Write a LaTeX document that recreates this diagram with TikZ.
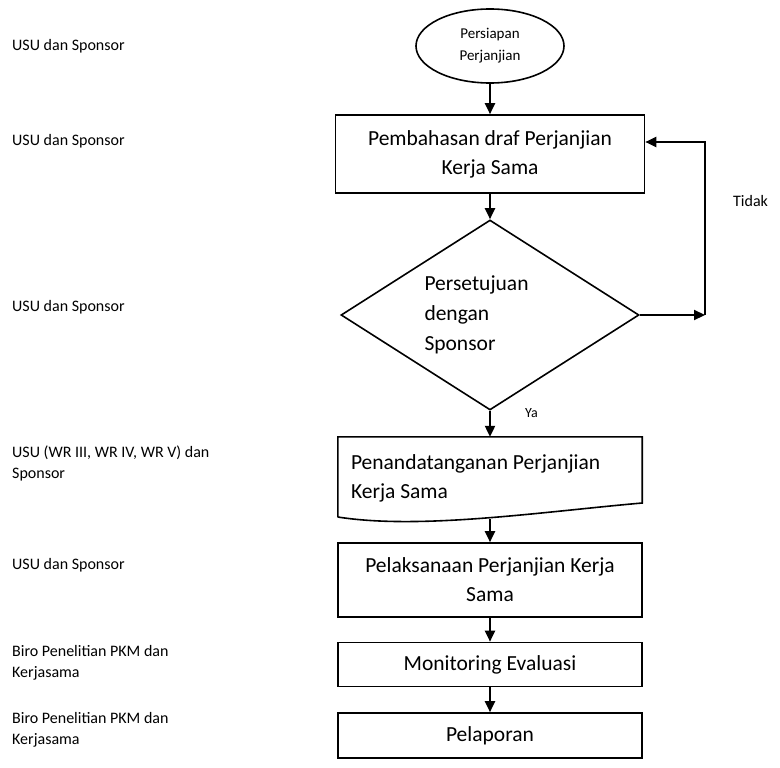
\documentclass[tikz,border=0pt]{standalone}
\usepackage{fontspec}
\setmainfont{Carlito}
\usetikzlibrary{shapes.geometric,arrows.meta}
\begin{document}
\begin{tikzpicture}[x=1pt,y=-1pt,
  box/.style={draw,line width=1.6pt,inner sep=0pt,align=center,font=\fontsize{21.5}{29}\selectfont},
  arr/.style={line width=2.2pt,-{Triangle[length=11pt,width=10pt]}},
  lbl/.style={anchor=west,align=flush left,inner sep=0pt,font=\fontsize{16}{21}\selectfont}]
\useasboundingbox (0,0) rectangle (780,768);
% left labels
\node[lbl] (l1) at (12,46) {USU dan Sponsor};
\node[lbl] (l2) at (12,141) {USU dan Sponsor};
\node[lbl] (l3) at (12,307) {USU dan Sponsor};
\node[lbl] (l4) at (12,463.5) {USU (WR III, WR IV, WR V) dan\\Sponsor};
\node[lbl] (l5) at (12,565) {USU dan Sponsor};
\node[lbl] (l6) at (12,662.5) {Biro Penelitian PKM dan\\Kerjasama};
\node[lbl] (l7) at (12,729.5) {Biro Penelitian PKM dan\\Kerjasama};
% flow
\node[ellipse,draw,line width=1.6pt,minimum width=148pt,minimum height=74pt,inner sep=0pt,align=center,font=\fontsize{15}{22}\selectfont] (start) at (490,46) {Persiapan\\Perjanjian};
\node[box,minimum width=309pt,minimum height=78pt] (b1) at (490,154) {Pembahasan draf Perjanjian\\Kerja Sama};
\node[diamond,draw,line width=1.6pt,aspect=1.57,minimum width=298pt,minimum height=190pt,inner sep=0pt,text width=131pt,align=flush left,font=\fontsize{21.5}{30}\selectfont] (dec) at (490,315) {Persetujuan\\dengan\\Sponsor};
\node[inner sep=0pt,minimum width=304pt,minimum height=82pt,text width=278pt,align=flush left,font=\fontsize{21.5}{29}\selectfont] (doc) at (490,478) {Penandatanganan Perjanjian\\Kerja Sama};
\draw[line width=1.6pt] (doc.south west |- 0,517) -- (doc.north west) -- (doc.north east) -- (doc.north east |- 0,503) .. controls (540,512) and (420,530) .. (doc.south west |- 0,517);
\node[box,minimum width=304pt,minimum height=74pt] (b4) at (490,580) {Pelaksanaan Perjanjian Kerja\\Sama};
\node[box,minimum width=304pt,minimum height=44pt] (b5) at (490,664.5) {Monitoring Evaluasi};
\node[box,minimum width=304pt,minimum height=45pt] (b6) at (490,735.5) {Pelaporan};
% connectors
\draw[arr] (start.south) -- (b1.north);
\draw[arr] (b1.south) -- (dec.north);
\draw[arr] (dec.south) -- (doc.north);
\draw[arr] (doc.south) -- (b4.north);
\draw[arr] (b4.south) -- (b5.north);
\draw[arr] (b5.south) -- (b6.north);
\coordinate (c1) at (705,315);
\coordinate (c2) at (705,142);
\draw[arr] (dec.east) -- (c1);
\draw[arr] (c1) -- (c2) -- (b1.east |- c2);
\node[lbl] (tidak) at (733,201) {Tidak};
\node[lbl,font=\fontsize{14}{16}\selectfont] (ya) at (525,413) {Ya};
\end{tikzpicture}
\end{document}
